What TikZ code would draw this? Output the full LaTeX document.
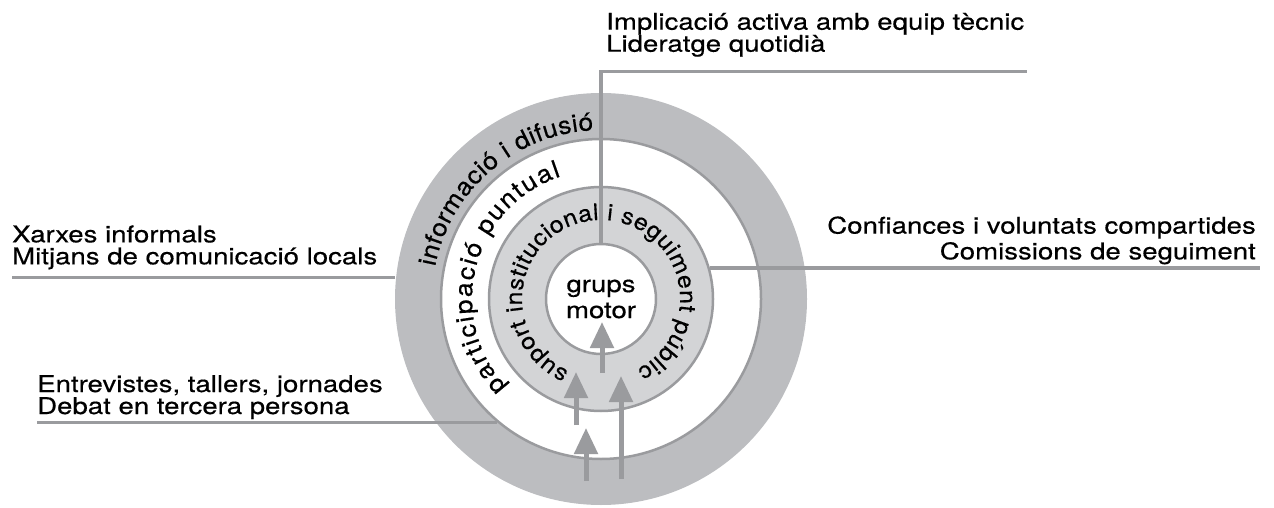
\documentclass[tikz,border=0pt]{standalone}
\usepackage{fontspec}
\setmainfont{TeX Gyre Heros}[FakeStretch=1.2, FakeBold=0.4]
\newfontfamily\narrowring{TeX Gyre Heros}[FakeStretch=1.08, FakeBold=0.4]
\usetikzlibrary{arrows.meta,decorations.text}

\definecolor{ringgray}{HTML}{BCBDC0}
\definecolor{palegray}{HTML}{D3D4D6}
\definecolor{linegray}{HTML}{9A9B9E}

\tikzset{
  ring/.style={circle, inner sep=0pt, minimum size=#1, line width=2.5pt, draw=linegray},
  link/.style={draw=linegray, line width=3.5pt},
  lift/.style={draw=linegray, line width=5pt, -{Triangle[width=23pt,length=26pt]}},
  caption/.style={inner sep=0pt, font=\fontsize{23}{22}\selectfont},
  ringtext/.style={decorate, decoration={text along path,
      text={|\narrowring\fontsize{24.5}{24.5}\selectfont|#1}, text align=fit to path}},
  narrowtext/.style={decorate, decoration={text along path,
      text={|\narrowring\fontsize{23}{23}\selectfont|#1}, text align=fit to path}}
}

\begin{document}
\begin{tikzpicture}[x=1pt, y=1pt]
	\useasboundingbox (0,0) rectangle (1274,507);
	\coordinate (hub) at (601,208);
	% rings
	\node[ring=412, fill=ringgray, draw=none] (outer) at (hub) {};
	\node[ring=320, fill=white] (band) at (hub) {};
	\node[ring=224, fill=palegray] (inner) at (hub) {};
	\node[ring=110, fill=white, align=center, font=\fontsize{23}{26}\selectfont] (core) at (hub) {grups\\motor};
	% texts along the rings
	\path[ringtext={informació i difusió}] ([shift={(hub)}]169:169) arc[start angle=169, end angle=92.5, radius=169];
	\path[ringtext={participació puntual}] ([shift={(hub)}]223:129) arc[start angle=223, end angle=108, radius=129];
	\path[narrowtext={suport institucional i seguiment públic}] ([shift={(hub)}]246:79) arc[start angle=246, end angle=-63, radius=79];
	% captions
	\node[caption, anchor=base west, align=left] (implic) at (606,455.3) {Implicació activa amb equip tècnic\\Lideratge quotidià};
	\node[caption, anchor=base west, align=left] (xarxes) at (12,242.7) {Xarxes informals\\Mitjans de comunicació locals};
	\node[caption, anchor=base west, align=left] (entrev) at (37,93) {Entrevistes, tallers, jornades\\Debat en tercera persona};
	\node[caption, anchor=base east, align=right] (confi) at (1256,247.7) {Confiances i voluntats compartides\\[2.5pt]Comissions de seguiment};
	% connectors
	\coordinate (topend) at (1027,435.5);
	\draw[link] (core.north) |- (topend);
	\draw[link] (outer.174) -- (outer.174 -| xarxes.west);
	\draw[link] (band.230) -- (band.230 -| entrev.west);
	\draw[link] (inner.16) -- ([xshift=4pt]inner.16 -| confi.east);
	% arrows
	\coordinate (lift1s) at (602,134);
	\coordinate (lift1e) at (602,185);
	\coordinate (lift2s) at (576,82);
	\coordinate (lift2e) at (576,135);
	\coordinate (lift3s) at (586,26);
	\coordinate (lift3e) at (586,79);
	\coordinate (lift4s) at (621,28);
	\coordinate (lift4e) at (621,131);
	\draw[lift] (lift1s) -- (lift1e);
	\draw[lift] (lift2s) -- (lift2e);
	\draw[lift] (lift3s) -- (lift3e);
	\draw[lift] (lift4s) -- (lift4e);
\end{tikzpicture}
\end{document}
